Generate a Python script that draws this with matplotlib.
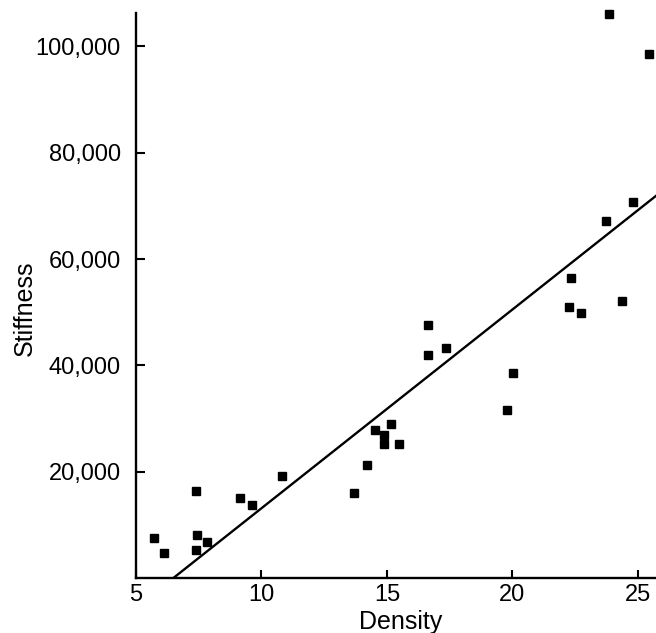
import matplotlib
matplotlib.use("Agg")
import matplotlib.pyplot as plt

density = [5.72, 6.12, 7.39, 7.43, 7.83, 7.40,
           9.14, 9.61, 10.80,
           13.68, 14.20, 14.52, 14.88, 14.88, 15.15, 15.49,
           16.65, 16.65, 17.35, 19.79, 20.03,
           22.32, 22.26, 22.75, 24.37, 23.73, 24.81, 23.86, 25.44]
stiffness = [7500, 4700, 16400, 8100, 6800, 5300,
             15000, 13700, 19100,
             16000, 21300, 27900, 26900, 25200, 29000, 25200,
             47600, 42000, 43200, 31600, 38600,
             56400, 50900, 49900, 52100, 67200, 70800, 106100, 98500]

fit_x = [6.49, 25.72]
fit_y = [0, 71900]

xticks = [5, 10, 15, 20, 25]
yticks = [20000, 40000, 60000, 80000, 100000]
ytick_labels = ["20,000", "40,000", "60,000", "80,000", "100,000"]

plt.rcParams['font.family'] = ['Liberation Sans', 'DejaVu Sans']

fig = plt.figure(figsize=(6.56, 6.33), dpi=100)
ax = fig.add_axes([136/656, 55/633, 1 - 136/656, (578-13)/633])

ax.plot(fit_x, fit_y, color='black', lw=1.7, zorder=2)
ax.plot(density, stiffness, ls='none', marker='s', ms=6.3, color='black',
        zorder=3, clip_on=False)

ax.set_xlim(5, 25.72)
ax.set_ylim(0, 106300)

ax.spines['top'].set_visible(False)
ax.spines['right'].set_visible(False)
ax.spines['left'].set_linewidth(1.7)
ax.spines['bottom'].set_linewidth(1.7)

ax.set_xticks(xticks)
ax.set_xticklabels([str(t) for t in xticks])
ax.set_yticks(yticks)
ax.set_yticklabels(ytick_labels)
ax.tick_params(axis='both', direction='in', width=1.5, colors='black')
ax.tick_params(axis='y', length=6.5, pad=11, labelsize=17)
ax.tick_params(axis='x', length=5.5, pad=4, labelsize=17)

ax.set_xlabel("Density", fontsize=18)
ax.xaxis.set_label_coords(0.508, -0.056)
ax.set_ylabel("Stiffness", fontsize=18)
ax.yaxis.set_label_coords(-0.19, 0.478)

fig.savefig("out.png", dpi=100)
